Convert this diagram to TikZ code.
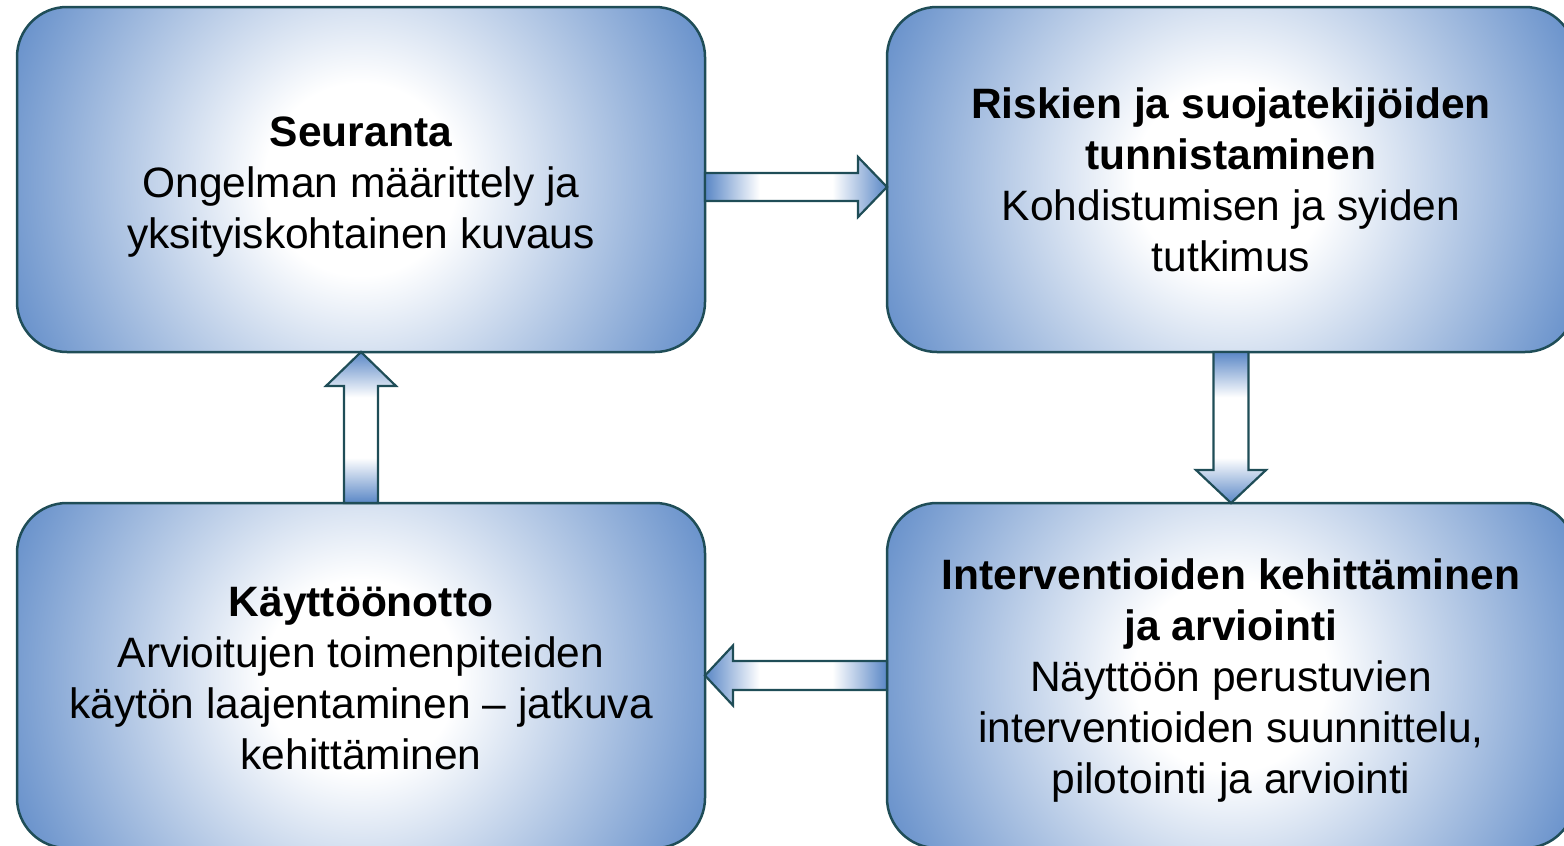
\documentclass[tikz,border=0pt]{standalone}
\usepackage{fontspec}
\setmainfont{Liberation Sans}
\usetikzlibrary{positioning,calc}
\definecolor{boxblue}{RGB}{90,135,198}
\definecolor{boxline}{RGB}{31,77,87}
\pgfdeclareradialshading{boxshade}{\pgfpointorigin}{color(0bp)=(white); color(6bp)=(white); color(25bp)=(boxblue); color(50bp)=(boxblue)}
\pgfdeclarehorizontalshading{arrowshade}{100bp}{color(0bp)=(boxblue); color(25bp)=(boxblue); color(40bp)=(white); color(60bp)=(white); color(75bp)=(boxblue); color(100bp)=(boxblue)}
\tikzset{
  stagebox/.style={rectangle, rounded corners=25pt, draw=boxline, line width=1.25pt,
    minimum width=344pt, minimum height=172.5pt, inner sep=0pt, outer sep=0pt, align=center,
    font=\fontsize{21.25pt}{25.5pt}\selectfont,
    path picture={\shade[shading=boxshade] (path picture bounding box.center) circle (200pt);}},
  arrowbody/.style={draw=boxline, line width=1.1pt, shade, shading=arrowshade, line join=miter}
}
% block arrow: [shading angle]{from}{to}{half shaft}{half head}{head length}
\newcommand{\blockarrow}[6][0]{%
  \coordinate (neck) at ($(#3)!#6!(#2)$);
  \path[arrowbody, shading angle=#1] ($(#2)!#4!90:(#3)$) -- ($(neck)!#4!90:(#3)$) -- ($(neck)!#5!90:(#3)$) -- (#3)
    -- ($(neck)!#5!-90:(#3)$) -- ($(neck)!#4!-90:(#3)$) -- ($(#2)!#4!-90:(#3)$) -- cycle;}

\begin{document}
\begin{tikzpicture}[x=0.5pt, y=-0.5pt]
\useasboundingbox (0,0) rectangle (1564,846);
\clip (0,0) rectangle (1564,846);
% the four stages
\node[stagebox] (seuranta) at (361,179.5) {\rule{0pt}{22.5pt}\textbf{Seuranta}\\Ongelman määrittely ja\\yksityiskohtainen kuvaus};
\node[stagebox, right=91pt of seuranta] (riskit) {\textbf{Riskien ja suojatekijöiden}\\\textbf{tunnistaminen}\\Kohdistumisen ja syiden\\tutkimus};
\node[stagebox, below=75.5pt of riskit] (interventiot) {\rule{0pt}{20.5pt}\textbf{Interventioiden kehittäminen}\\\textbf{ja arviointi}\\Näyttöön perustuvien\\interventioiden suunnittelu,\\pilotointi ja arviointi};
\node[stagebox, below=75.5pt of seuranta] (kayttoonotto) {\rule{0pt}{17.5pt}\textbf{Käyttöönotto}\\Arvioitujen toimenpiteiden\\käytön laajentaminen – jatkuva\\kehittäminen};
% arrows between them
\coordinate (s1) at ([yshift=-3.75pt]seuranta.east);
\coordinate (s2) at ([yshift=-3.75pt]riskit.west);
\blockarrow{s1}{s2}{7pt}{15pt}{14.5pt}
\blockarrow[90]{riskit.south}{interventiot.north}{8.75pt}{17.5pt}{16.5pt}
\blockarrow{interventiot.west}{kayttoonotto.east}{7.25pt}{15pt}{14pt}
\blockarrow[90]{kayttoonotto.north}{seuranta.south}{8.5pt}{17.5pt}{17pt}
\end{tikzpicture}
\end{document}
